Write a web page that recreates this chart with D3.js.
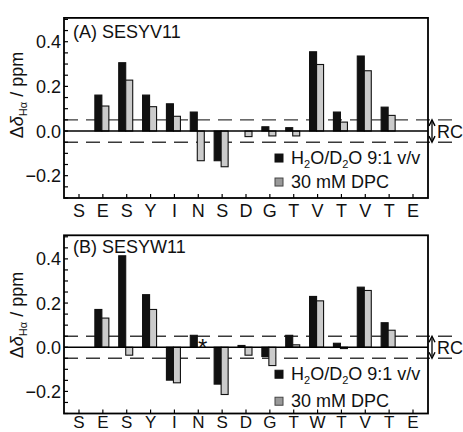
<!DOCTYPE html>
<html><head><meta charset="utf-8">
<script src="https://cdn.jsdelivr.net/npm/d3@7"></script>
<style>
body{margin:0;background:#fff}
svg{display:block}
text{font-family:"Liberation Sans",Arial,Helvetica,sans-serif;fill:#111}
</style>
</head><body>
<svg id="c" width="463" height="432"></svg>
<script>
// ---- data ----
const residuesA = ["S","E","S","Y","I","N","S","D","G","T","V","T","V","T","E"];
const residuesB = ["S","E","S","Y","I","N","S","D","G","T","W","T","V","T","E"];
const waterA = [null,0.161,0.306,0.161,0.122,0.085,-0.133,0,0.019,0.015,0.355,0.085,0.336,0.107,null];
const dpcA   = [null,0.112,0.228,0.109,0.066,-0.133,-0.160,-0.025,-0.022,-0.022,0.298,0.040,0.270,0.070,null];
const waterB = [null,0.171,0.414,0.238,-0.149,0.054,-0.167,0.008,-0.042,0.054,0.230,0.018,0.272,0.111,null];
const dpcB   = [null,0.132,-0.036,0.171,-0.161,null,-0.214,-0.036,-0.083,0.011,0.210,-0.006,0.257,0.077,null];
const yTickLabels = [0.4, 0.2, 0.0, -0.2];
const yMinorTicks = d3.range(-0.3, 0.5001, 0.05);
const rcLimit = 0.05;
const titles = ["(A) SESYV11", "(B) SESYW11"];
const starIndexB = 5;

const svg = d3.select("#c");
const X0 = 64, X1 = 428;

function drawPanel(cfg){
  const g = svg.append("g");
  const x = d3.scalePoint().domain(d3.range(cfg.labels.length)).range([79, 413]);
  const y = d3.scaleLinear().domain([-0.3, 0.5]).range([cfg.bottom, cfg.top]);
  const frameTop = y(0.5) - 1.5;

  // dashed RC lines (extend beyond frame)
  [rcLimit, -rcLimit].forEach(v => {
    g.append("line").attr("x1", X0).attr("x2", 458).attr("y1", y(v)).attr("y2", y(v))
      .attr("stroke", "#3a3a3a").attr("stroke-width", 1.4).attr("stroke-dasharray", "14,8");
  });

  // bars
  const w = 7;
  const barData = [];
  cfg.water.forEach((v,i) => { if (v !== null && Math.abs(v) > 0.001) barData.push({i, v, k:0}); });
  cfg.dpc.forEach((v,i) => { if (v !== null && Math.abs(v) > 0.001) barData.push({i, v, k:1}); });
  g.selectAll("rect.bar").data(barData).join("rect").attr("class","bar")
    .attr("x", d => d.k === 0 ? x(d.i) - 8 : x(d.i) - 1)
    .attr("width", w)
    .attr("y", d => Math.min(y(d.v), y(0)))
    .attr("height", d => Math.abs(y(d.v) - y(0)))
    .attr("fill", d => d.k === 0 ? "#111" : "#cbcbcb")
    .attr("stroke", "#111").attr("stroke-width", 1.1);

  // zero line
  g.append("line").attr("x1", X0).attr("x2", X1).attr("y1", y(0)).attr("y2", y(0))
    .attr("stroke", "#000").attr("stroke-width", 1.6);

  // frame
  g.append("rect").attr("x", X0).attr("y", frameTop).attr("width", X1 - X0)
    .attr("height", y(-0.3) - frameTop).attr("fill", "none").attr("stroke", "#000").attr("stroke-width", 1.8);

  // y ticks (inside)
  g.selectAll("line.yt").data(yMinorTicks).join("line").attr("class","yt")
    .attr("x1", X0).attr("x2", X0 + 4).attr("y1", d => y(d)).attr("y2", d => y(d))
    .attr("stroke", "#000").attr("stroke-width", 1.2);
  g.selectAll("text.yl").data(yTickLabels).join("text").attr("class","yl")
    .attr("x", 61).attr("y", d => y(d)).attr("dy", "0.36em").attr("text-anchor", "end")
    .attr("font-size", 18).text(d => d3.format(".1f")(d));

  // x ticks (inside, pointing up)
  g.selectAll("line.xt").data(cfg.labels.map((d,i)=>i)).join("line").attr("class","xt")
    .attr("x1", d => x(d)).attr("x2", d => x(d)).attr("y1", y(-0.3)).attr("y2", y(-0.3) - 4)
    .attr("stroke", "#000").attr("stroke-width", 1.2);
  g.selectAll("text.xl").data(cfg.labels).join("text").attr("class","xl")
    .attr("x", (d,i) => x(i)).attr("y", y(-0.3) + cfg.xlabOff).attr("text-anchor", "middle")
    .attr("font-size", cfg.xlabSize).text(d => d);

  // title
  g.append("text").attr("x", 73).attr("y", cfg.titleY).attr("font-size", 18).text(cfg.title);

  // y label
  const yl = g.append("text").attr("transform", `translate(23,${cfg.labelY}) rotate(-90)`)
    .attr("text-anchor", "middle").attr("font-size", 18);
  yl.append("tspan").text("Δ");
  yl.append("tspan").attr("font-style", "italic").text("δ");
  yl.append("tspan").attr("font-size", 11).attr("dy", 4).text("Hα");
  yl.append("tspan").attr("dy", -4).text(" / ppm");

  // RC arrow
  const ax = 432, ya = y(rcLimit), yb = y(-rcLimit);
  g.append("line").attr("x1", ax).attr("x2", ax).attr("y1", ya + 2).attr("y2", yb - 2)
    .attr("stroke", "#000").attr("stroke-width", 1.3);
  g.append("path").attr("d", `M${ax-3},${ya+6}L${ax},${ya}L${ax+3},${ya+6}M${ax-3},${yb-6}L${ax},${yb}L${ax+3},${yb-6}`)
    .attr("fill", "none").attr("stroke", "#000").attr("stroke-width", 1.4);
  g.append("text").attr("x", 437).attr("y", y(0)).attr("dy", "0.36em").attr("font-size", 18).text("RC");

  // legend
  const l1 = y(0) + 27, l2 = y(0) + cfg.leg2;
  g.append("rect").attr("x", 275).attr("y", l1 - 4).attr("width", 8).attr("height", 8)
    .attr("fill", "#111").attr("stroke", "#111");
  g.append("rect").attr("x", 275).attr("y", l2 - 4).attr("width", 8).attr("height", 8)
    .attr("fill", "#999").attr("stroke", "#444");
  const t1 = g.append("text").attr("x", 291).attr("y", l1 + 6).attr("font-size", 18);
  t1.append("tspan").text("H");
  t1.append("tspan").attr("font-size", 11).attr("dy", 4).text("2");
  t1.append("tspan").attr("dy", -4).text("O/D");
  t1.append("tspan").attr("font-size", 11).attr("dy", 4).text("2");
  t1.append("tspan").attr("dy", -4).text("O 9:1 v/v");
  g.append("text").attr("x", 291).attr("y", l2 + 6).attr("font-size", 18).text("30 mM DPC");

  if (cfg.star !== undefined) {
    g.append("text").attr("x", x(cfg.star) + 4.5).attr("y", y(0) + 9).attr("text-anchor","middle")
      .attr("font-size", 24).text("*");
  }
}

drawPanel({labels: residuesA, water: waterA, dpc: dpcA, top: 19.4, bottom: 198,
  title: titles[0], titleY: 38, labelY: 95, leg2: 51, xlabOff: 19, xlabSize: 18});
drawPanel({labels: residuesB, water: waterB, dpc: dpcB, top: 236.8, bottom: 413.5,
  title: titles[1], titleY: 253, labelY: 315, leg2: 54, xlabOff: 14.5, xlabSize: 17,
  star: starIndexB});
</script>
</body></html>
